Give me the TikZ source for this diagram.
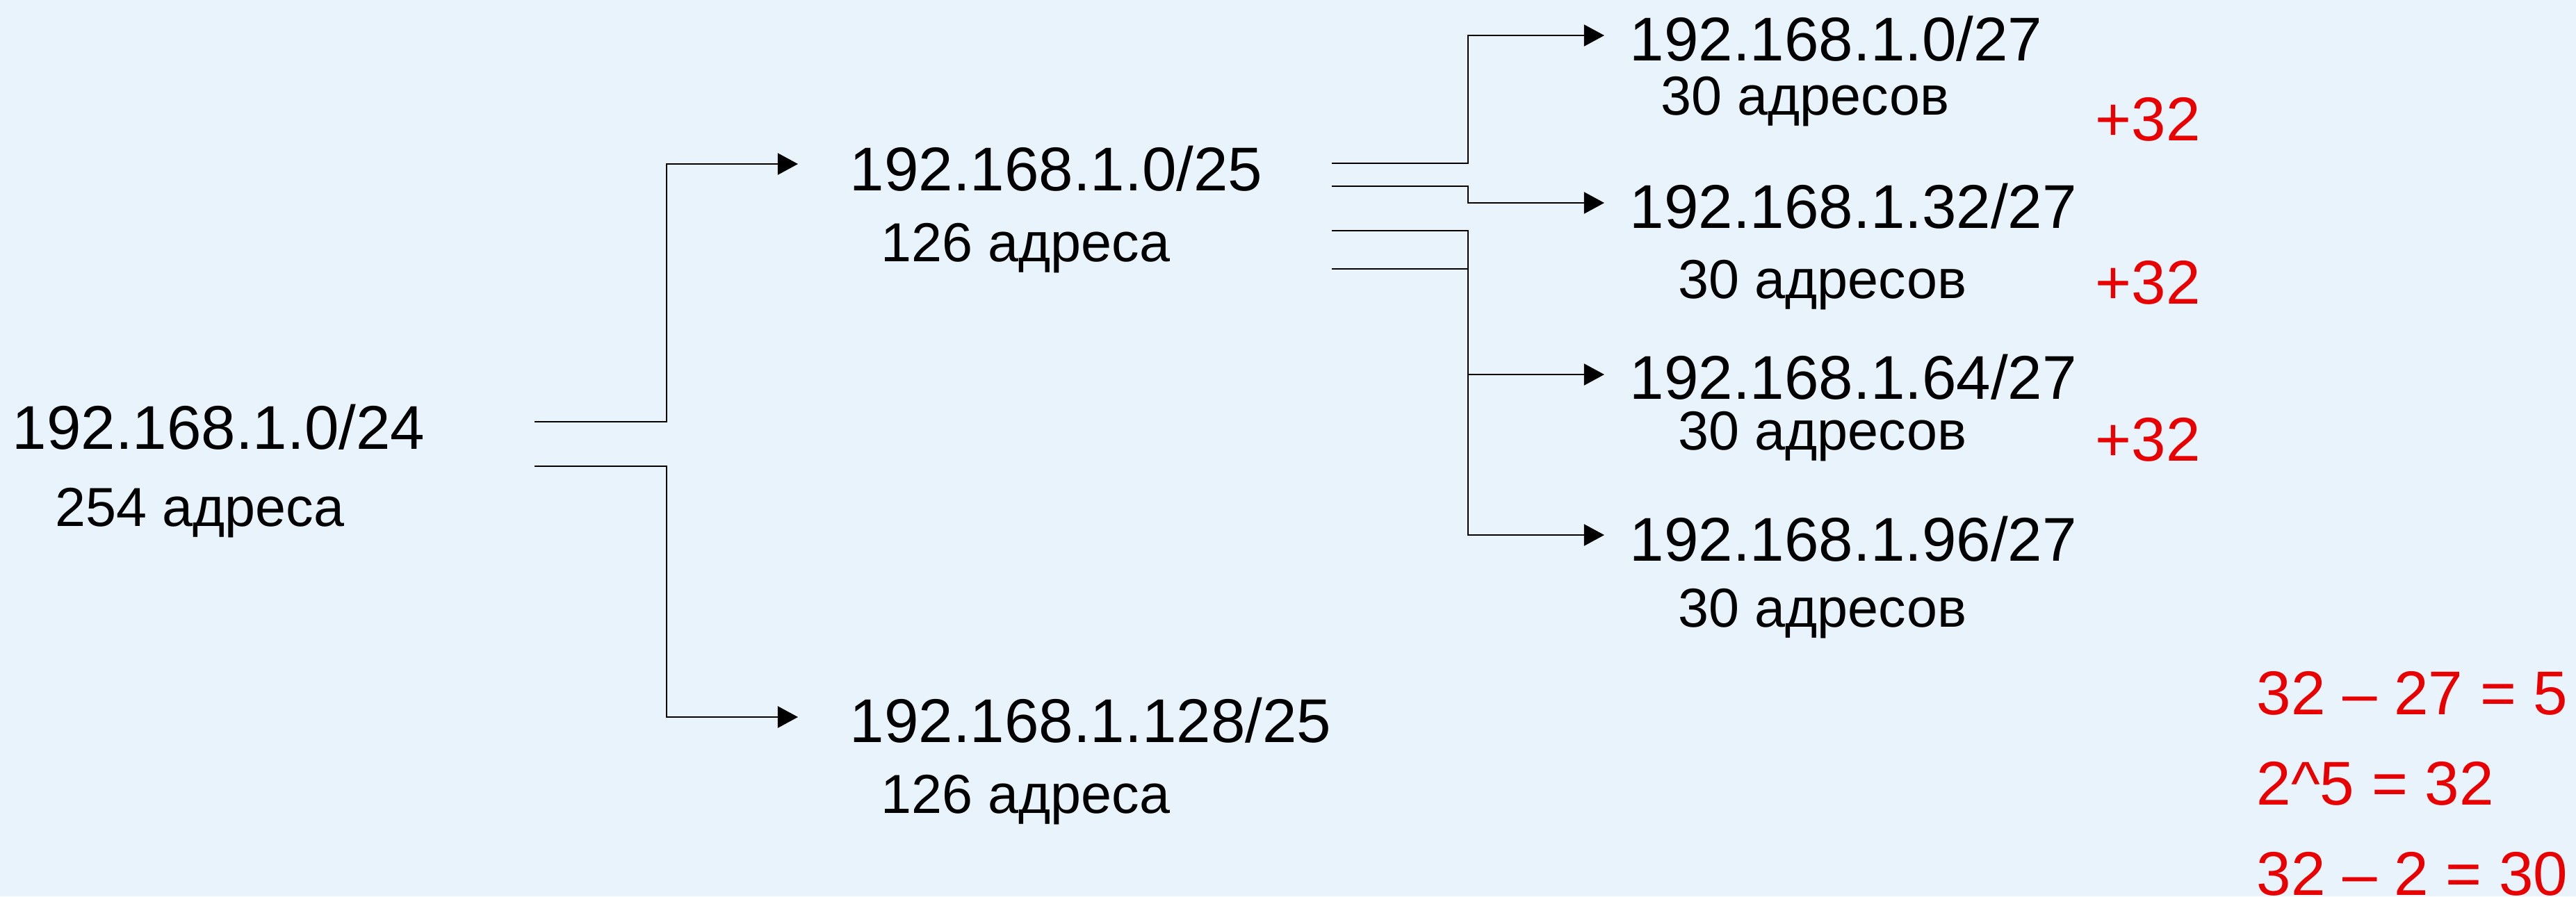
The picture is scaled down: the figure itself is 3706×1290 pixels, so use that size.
\documentclass[tikz,border=0pt]{standalone}
\usepackage{fontspec}
\setmainfont{Liberation Sans}
\usetikzlibrary{arrows.meta}
\definecolor{bg}{RGB}{232,243,252}
\definecolor{redtxt}{RGB}{232,0,0}
\begin{document}
\begin{tikzpicture}[x=0.01cm,y=-0.01cm,
  big/.style={anchor=base west,inner sep=0pt,font=\fontsize{25.3pt}{30pt}\selectfont},
  small/.style={anchor=base west,inner sep=0pt,font=\fontsize{22.5pt}{27pt}\selectfont},
  redt/.style={big,text=redtxt},
  wire/.style={line width=0.77pt,black,line join=miter},
  arr/.style={wire,-{Triangle[length=8.3pt,width=8.8pt]}}]
\fill[bg] (0,0) rectangle (3706,1290);
\useasboundingbox (0,0) rectangle (3706,1290);
% texts
\node[big] (n24) at (17,646) {192.168.1.0/24};
\node[small] (n24a) at (79,757) {254 адреса};
\node[big] (n25a) at (1222,274) {192.168.1.0/25};
\node[small] (n25aa) at (1267,376) {126 адреса};
\node[big] (n25b) at (1222,1068) {192.168.1.128/25};
\node[small] (n25ba) at (1267,1170) {126 адреса};
\node[big] (n27a) at (2344,87) {192.168.1.0/27};
\node[small] (n27aa) at (2389,165) {30 адресов};
\node[big] (n27b) at (2344,328) {192.168.1.32/27};
\node[small] (n27ba) at (2414,429) {30 адресов};
\node[big] (n27c) at (2344,574) {192.168.1.64/27};
\node[small] (n27ca) at (2414,647) {30 адресов};
\node[big] (n27d) at (2344,807) {192.168.1.96/27};
\node[small] (n27da) at (2414,902) {30 адресов};
\node[redt] (p1) at (3014,202) {+32};
\node[redt] (p2) at (3014,437) {+32};
\node[redt] (p3) at (3014,663) {+32};
\node[redt] (f1) at (3246,1028) {32 – 27 = 5};
\node[redt] (f2) at (3246,1158) {2\textasciicircum 5 = 32};
\node[redt] (f3) at (3246,1288) {32 – 2 = 30};
% connector points
\coordinate (a1) at (769,607);
\coordinate (a2) at (769,671);
\coordinate (j1) at (959,0);
\coordinate (ta) at (1148,236);
\coordinate (tb) at (1148,1032);
\coordinate (b1) at (1916,235);
\coordinate (b2) at (1916,268);
\coordinate (b3) at (1916,332);
\coordinate (b4) at (1916,387);
\coordinate (j2) at (2112,0);
\coordinate (t1) at (2308,51);
\coordinate (t2) at (2308,292);
\coordinate (t3) at (2308,539);
\coordinate (t4) at (2308,770);
% connectors
\draw[arr] (a1) -- (a1 -| j1) |- (ta);
\draw[arr] (a2) -- (a2 -| j1) |- (tb);
\draw[arr] (b1) -- (b1 -| j2) |- (t1);
\draw[arr] (b2) -- (b2 -| j2) |- (t2);
\draw[arr] (b3) -- (b3 -| j2) |- (t4);
\draw[wire] (b4) -- (b4 -| j2);
\draw[arr] (t3 -| j2) -- (t3);
\end{tikzpicture}
\end{document}
